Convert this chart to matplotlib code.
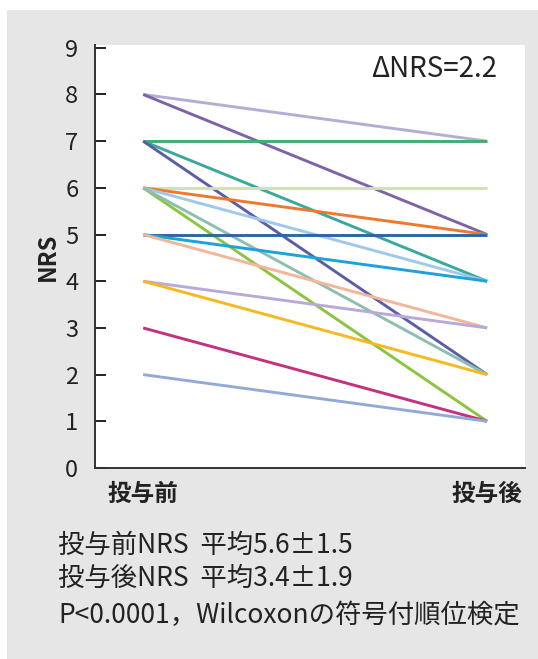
import matplotlib
matplotlib.use('Agg')
import matplotlib.pyplot as plt
from matplotlib.patches import Rectangle

plt.rcParams['font.family'] = ['Noto Sans CJK JP', 'DejaVu Sans']

# ---- data: NRS before / after for each patient ----
pre_nrs = [8, 8, 7, 7, 7, 6, 6, 6, 6, 6, 5, 5, 5, 4, 4, 3, 2]
post_nrs = [7, 5, 7, 4, 2, 6, 5, 4, 1, 2, 5, 4, 3, 3, 2, 1, 1]
line_colors = ['#b3aed6', '#7e63a8', '#3fae73', '#3aa89a', '#5b5ea6',
               '#cfe2b0', '#ec7a2e', '#9fc8ea', '#8cc43f', '#8dbfae',
               '#2f64a3', '#1ea2dc', '#f2b699', '#b9a9d8', '#f5b921',
               '#c4317e', '#92abd6']
x_labels = ['投与前', '投与後']
y_ticks = list(range(0, 10))

fig = plt.figure(figsize=(5.38, 6.59), dpi=100)
fig.patch.set_facecolor('white')
# grey panel behind the chart
fig.add_artist(Rectangle((7 / 538, 0), 1, 1 - 10 / 659, transform=fig.transFigure,
                         facecolor='#e6e6e6', edgecolor='none', zorder=0))

ax = fig.add_axes([95 / 538, 191 / 659, 430 / 538, 423 / 659])
ax.set_facecolor('white')

for pre, post, col in zip(pre_nrs, post_nrs, line_colors):
    ax.plot([0, 1], [pre, post], color=col, linewidth=2.1, solid_capstyle='butt')

ax.set_xlim(-0.14, 1.11)
ax.set_ylim(0, 9.06)
ax.set_yticks(y_ticks)
ax.set_xticks([0, 1])
ax.set_xticklabels(x_labels, fontsize=17, fontweight='bold', color='#222222')
ax.tick_params(axis='y', direction='in', length=8, width=1.4, labelsize=17,
               colors='#222222', pad=12)
ax.tick_params(axis='x', length=0, pad=10)
ax.set_ylabel('NRS', fontsize=17, fontweight='bold', color='#222222', labelpad=4)

for side in ['top', 'right']:
    ax.spines[side].set_visible(False)
for side in ['left', 'bottom']:
    ax.spines[side].set_color('#333333')
    ax.spines[side].set_linewidth(1.4)

ax.text(1.03, 8.55, 'ΔNRS=2.2', fontsize=20, color='#222222', ha='right', va='center',
        transform=ax.transData)

# summary text below the chart
fig.text(58 / 538, 1 - 545 / 659, '投与前NRS  平均5.6±1.5', fontsize=19,
         color='#222222', va='center')
fig.text(58 / 538, 1 - 578 / 659, '投与後NRS  平均3.4±1.9', fontsize=19,
         color='#222222', va='center')
fig.text(58 / 538, 1 - 615 / 659, 'P<0.0001，Wilcoxonの符号付順位検定', fontsize=19,
         color='#222222', va='center')

fig.savefig('out.png', dpi=100)
